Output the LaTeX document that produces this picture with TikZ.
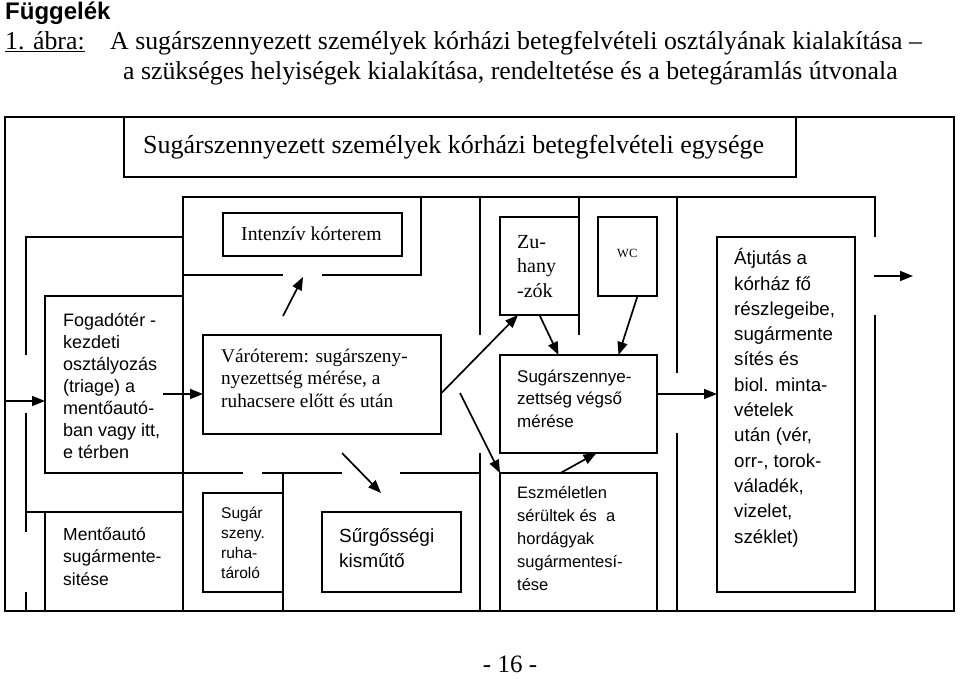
\documentclass[tikz,border=0pt]{standalone}
\usepackage{fontspec}
\setmainfont{Liberation Serif}
\setsansfont{Liberation Sans}
\usetikzlibrary{arrows.meta}

\newcommand{\betu}[2]{\fontsize{#1}{#2}\selectfont}

\begin{document}
\begin{tikzpicture}[x=1pt, y=-1pt,
    wall/.style={line width=2.1pt},
    box/.style 2 args={draw, line width=2.1pt, inner sep=0pt, outer sep=0pt,
                       anchor=north west, minimum width=#1, minimum height=#2},
    txt/.style={inner sep=0pt, anchor=base west, align=left},
    arr/.style={line width=1.7pt, -{Triangle[length=13pt,width=10pt]}}]
    \useasboundingbox (0,0) rectangle (960,678);

    % fejlec
    \node[txt, font=\sffamily\bfseries\betu{24}{26}] (fuggelek) at (5,19) {Függelék};
    \node[txt, font=\betu{25.8}{30}] (abra) at (5,49) {\underline{1. ábra:}};
    \node[txt, font=\betu{25.8}{30}] (cim1) at (110,49)
        {A sugárszennyezett személyek kórházi betegfelvételi osztályának kialakítása –};
    \node[txt, font=\betu{25.8}{30}] (cim2) at (123,79)
        {a szükséges helyiségek kialakítása, rendeltetése és a betegáramlás útvonala};

    % falak
    \draw[line width=2.8pt] (5,117) rectangle (954,611);
    \draw[wall] (183,237) -- (26,237) -- (26,355);
    \draw[wall] (26,413) -- (26,532);
    \draw[wall] (26,592) -- (26,611);
    \draw[wall] (26,512) -- (45,512);
    \draw[wall] (183,611) -- (183,197) -- (875,197) -- (875,237);
    \draw[wall] (875,315) -- (875,611);
    \draw[wall] (183,275) -- (283,275);
    \draw[wall] (322,275) -- (421,275) -- (421,197);
    \draw[wall] (183,473) -- (243,473);
    \draw[wall] (262,473) -- (342,473);
    \draw[wall] (400,473) -- (480,473);
    \draw[wall] (283,473) -- (283,611);
    \draw[wall] (480,197) -- (480,335);
    \draw[wall] (480,453) -- (480,611);
    \draw[wall] (579,197) -- (579,335);
    \draw[wall] (677,197) -- (677,373);
    \draw[wall] (677,433) -- (677,611);

    % helyisegek
    \node[box={672pt}{60pt}] (egyseg) at (124,117) {};
    \node[box={179pt}{43pt}] (intenziv) at (223,213) {};
    \node[box={138pt}{177pt}] (fogado) at (45,296) {};
    \node[box={138pt}{99pt}] (mento) at (45,512) {};
    \node[box={238pt}{99pt}] (varo) at (203,335) {};
    \node[box={80pt}{99pt}] (ruha) at (203,493) {};
    \node[box={139pt}{80pt}] (kismuto) at (322,512) {};
    \node[box={79pt}{98pt}] (zuhany) at (500,217) {};
    \node[box={59pt}{79pt}] (wc) at (598,217) {};
    \node[box={157pt}{98pt}] (vegso) at (500,355) {};
    \node[box={157pt}{138pt}] (eszm) at (500,473) {};
    \node[box={138pt}{355pt}] (atjutas) at (717,237) {};

    % feliratok (base = utolso sor)
    \node[txt, font=\betu{26}{30}] (egyseg-t) at (143,153)
        {Sugárszennyezett személyek kórházi betegfelvételi egysége};
    \node[txt, font=\betu{19.7}{23}] (intenziv-t) at (241,240) {Intenzív kórterem};
    \node[txt, font=\sffamily\betu{18}{22}] (fogado-t) at (63,458)
        {Fogadótér -\\kezdeti\\osztályozás\\(triage) a\\mentőautó-\\ban vagy itt,\\e térben};
    \node[txt, font=\sffamily\betu{17.5}{22.5}] (mento-t) at (63,585)
        {Mentőautó\\sugármente-\\sitése};
    \node[txt, font=\betu{19.3}{22.5}] (varo-t) at (221,407)
        {Váróterem: sugárszeny-\\nyezettség mérése, a\\ruhacsere előtt és után};
    \node[txt, font=\sffamily\betu{15.5}{20}] (ruha-t) at (221,578)
        {Sugár\\szeny.\\ruha-\\tároló};
    \node[txt, font=\sffamily\betu{19}{25}] (kismuto-t) at (339,567)
        {Sűrgősségi\\kisműtő};
    \node[txt, font=\betu{20}{24.5}] (zuhany-t) at (517,297) {Zu-\\hany\\-zók};
    \node[txt, font=\betu{12.5}{15}] (wc-t) at (617,257) {WC};
    \node[txt, font=\sffamily\betu{17}{22.5}] (vegso-t) at (517,427)
        {Sugárszennye-\\zettség végső\\mérése};
    \node[txt, font=\sffamily\betu{16.5}{22.8}] (eszm-t) at (517,590)
        {Eszméletlen\\sérültek és\ \ a\\hordágyak\\sugármentesí-\\tése};
    \node[txt, font=\sffamily\betu{18.7}{25.3}] (atjutas-t) at (734,543)
        {Átjutás a\\kórház fő\\részlegeibe,\\sugármente\\sítés és\\biol. minta-\\vételek\\után (vér,\\orr-, torok-\\váladék,\\vizelet,\\széklet)};
    \node[inner sep=0pt, anchor=base, font=\betu{25}{28}] (oldal) at (510,672) {- 16 -};

    % betegaramlas
    \coordinate (be) at (5,401);
    \coordinate (triage) at (163,394);
    \coordinate (int-ki) at (283,316);
    \coordinate (int-be) at (303,277);
    \coordinate (varo-ki) at (460,393);
    \coordinate (kis-ki) at (342,453);
    \coordinate (kis-be) at (381,493);
    \coordinate (kijarat) at (874,276);
    \coordinate (kint) at (913,276);
    \draw[arr] (be) -- (be -| fogado.west);
    \draw[arr] (triage) -- (triage -| varo.west);
    \draw[arr] (int-ki) -- (int-be);
    \draw[arr] ([yshift=-9pt]varo.east) -- ([xshift=18pt]zuhany.south west);
    \draw[arr] (varo-ki) -- (eszm.north west);
    \draw[arr] (kis-ki) -- (kis-be);
    \draw[arr] (zuhany.south) -- ([xshift=-20pt]vegso.north);
    \draw[arr] ([xshift=10pt]wc.south) -- ([xshift=40pt]vegso.north);
    \draw[arr] ([xshift=-18pt]eszm.north) -- ([xshift=18pt]vegso.south);
    \draw[arr] ([yshift=10pt]vegso.east) -- ([yshift=10pt]vegso.east -| atjutas.west);
    \draw[arr] (kijarat) -- (kint);
\end{tikzpicture}
\end{document}
